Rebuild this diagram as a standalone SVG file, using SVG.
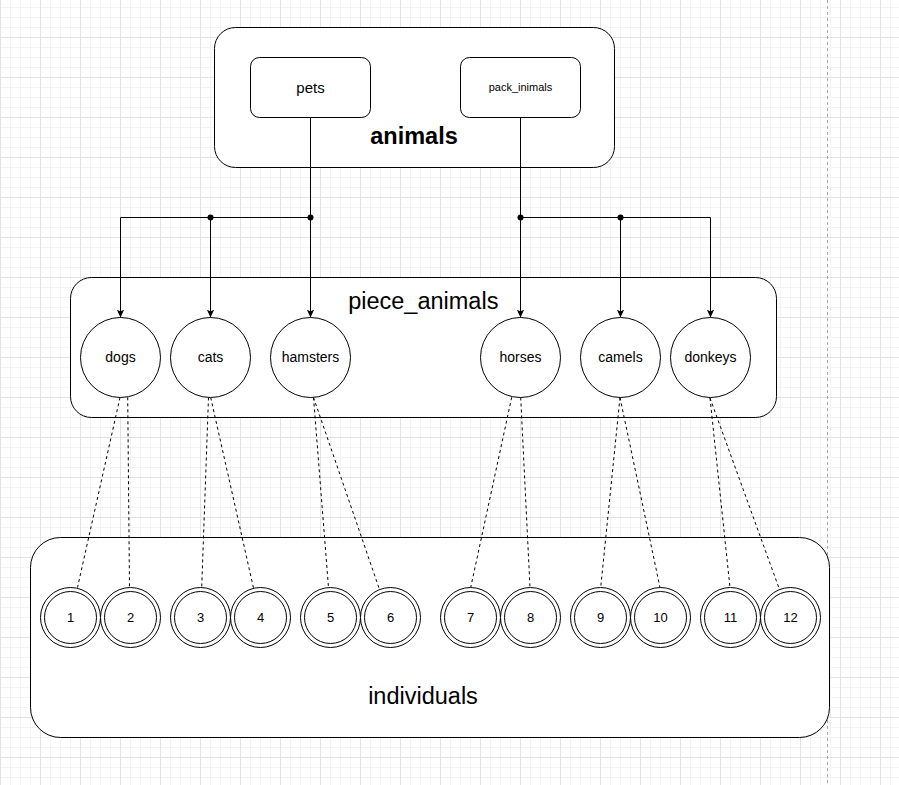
<svg xmlns="http://www.w3.org/2000/svg" width="899" height="785" viewBox="0 0 899 785">
<style>
.box{fill:#fff;stroke:#000;stroke-width:1}
.t{font-family:"Liberation Sans",Arial,Helvetica,sans-serif;fill:#000;text-anchor:middle}
.edge{fill:none;stroke:#000;stroke-width:1}
.dash{fill:none;stroke:#000;stroke-width:1;stroke-dasharray:3 3}
.dot{fill:#000}
</style>
<defs>
<pattern id="grid" width="40" height="40" x="0" y="-3" patternUnits="userSpaceOnUse">
<rect width="40" height="40" fill="#fff"/>
<path d="M10.5 0V40M20.5 0V40M30.5 0V40M0 10.5H40M0 20.5H40M0 30.5H40" stroke="#f3f3f3" stroke-width="1"/>
<path d="M0.5 0V40M0 0.5H40" stroke="#e2e2e2" stroke-width="1"/>
</pattern>
<marker id="arr" markerUnits="userSpaceOnUse" viewBox="0 0 8 8" refX="8" refY="4" markerWidth="8" markerHeight="8" orient="auto">
<path d="M0,0.3 L8,4 L0,7.7 L2,4 Z" fill="#000"/>
</marker>
</defs>
<rect width="899" height="785" fill="url(#grid)"/>
<path d="M827.5 0V785" stroke="#a8a8a8" stroke-width="1" stroke-dasharray="3 3"/>

<g id="animals">
<rect class="box" x="214.5" y="27.5" width="400" height="140" rx="21"/>
<text class="t" x="414" y="144" font-size="23.5" font-weight="bold">animals</text>
</g>
<g id="pets">
<rect class="box" x="250.5" y="57.5" width="120" height="60" rx="9"/>
<text class="t" x="310.5" y="92.8" font-size="15">pets</text>
</g>
<g id="pack_inimals">
<rect class="box" x="460.5" y="57.5" width="120" height="60" rx="9"/>
<text class="t" x="520.5" y="91.3" font-size="11">pack_inimals</text>
</g>

<g id="piece_animals">
<rect class="box" x="70.5" y="277.5" width="706" height="140" rx="21"/>
<text class="t" x="423.3" y="308.5" font-size="23.5">piece_animals</text>
</g>

<g id="individuals">
<rect class="box" x="30.5" y="537.5" width="799" height="200" rx="30"/>
<text class="t" x="423" y="703.5" font-size="23.5">individuals</text>
</g>

<g id="connectors">
<path class="edge" d="M310.5 117.5V217.5H120.5V317.5" marker-end="url(#arr)"/>
<path class="edge" d="M310.5 117.5V217.5H210.5V317.5" marker-end="url(#arr)"/>
<path class="edge" d="M310.5 117.5V317.5" marker-end="url(#arr)"/>
<path class="edge" d="M520.5 117.5V317.5" marker-end="url(#arr)"/>
<path class="edge" d="M520.5 117.5V217.5H620.5V317.5" marker-end="url(#arr)"/>
<path class="edge" d="M520.5 117.5V217.5H710.5V317.5" marker-end="url(#arr)"/>
<circle class="dot" cx="210.5" cy="217.5" r="3"/>
<circle class="dot" cx="310.5" cy="217.5" r="3"/>
<circle class="dot" cx="520.5" cy="217.5" r="3"/>
<circle class="dot" cx="620.5" cy="217.5" r="3"/>
<path class="dash" d="M120 397.5L77.5 587.5"/>
<path class="dash" d="M127.7 397.3L129.5 587.5"/>
<path class="dash" d="M208.5 397.5L201.7 587.5"/>
<path class="dash" d="M210.7 397.5L253.5 588"/>
<path class="dash" d="M313.5 397.5L328.5 587.5"/>
<path class="dash" d="M313.5 397.5L379.5 589.5"/>
<path class="dash" d="M511.7 397.3L470.7 587.5"/>
<path class="dash" d="M520.7 397.5L530 587.5"/>
<path class="dash" d="M620 397.5L600.7 587.5"/>
<path class="dash" d="M620 397.5L660 587.5"/>
<path class="dash" d="M710 398L730 587.5"/>
<path class="dash" d="M710 398L779.5 589.5"/>
</g>

<g id="dogs"><circle class="box" cx="120.5" cy="357.5" r="40"/><text class="t" x="120.5" y="362.4" font-size="14">dogs</text></g>
<g id="cats"><circle class="box" cx="210.5" cy="357.5" r="40"/><text class="t" x="210.5" y="362.4" font-size="14">cats</text></g>
<g id="hamsters"><circle class="box" cx="310.5" cy="357.5" r="40"/><text class="t" x="310.5" y="362.4" font-size="14">hamsters</text></g>
<g id="horses"><circle class="box" cx="520.5" cy="357.5" r="40"/><text class="t" x="520.5" y="362.4" font-size="14">horses</text></g>
<g id="camels"><circle class="box" cx="620.5" cy="357.5" r="40"/><text class="t" x="620.5" y="362.4" font-size="14">camels</text></g>
<g id="donkeys"><circle class="box" cx="710.5" cy="357.5" r="40"/><text class="t" x="710.5" y="362.4" font-size="14">donkeys</text></g>

<g id="i1"><circle class="box" cx="70.5" cy="617.5" r="30"/><circle class="box" cx="70.5" cy="617.5" r="26"/><text class="t" x="70.5" y="622" font-size="13">1</text></g>
<g id="i2"><circle class="box" cx="130.5" cy="617.5" r="30"/><circle class="box" cx="130.5" cy="617.5" r="26"/><text class="t" x="130.5" y="622" font-size="13">2</text></g>
<g id="i3"><circle class="box" cx="200.5" cy="617.5" r="30"/><circle class="box" cx="200.5" cy="617.5" r="26"/><text class="t" x="200.5" y="622" font-size="13">3</text></g>
<g id="i4"><circle class="box" cx="260.5" cy="617.5" r="30"/><circle class="box" cx="260.5" cy="617.5" r="26"/><text class="t" x="260.5" y="622" font-size="13">4</text></g>
<g id="i5"><circle class="box" cx="330.5" cy="617.5" r="30"/><circle class="box" cx="330.5" cy="617.5" r="26"/><text class="t" x="330.5" y="622" font-size="13">5</text></g>
<g id="i6"><circle class="box" cx="390.5" cy="617.5" r="30"/><circle class="box" cx="390.5" cy="617.5" r="26"/><text class="t" x="390.5" y="622" font-size="13">6</text></g>
<g id="i7"><circle class="box" cx="470.5" cy="617.5" r="30"/><circle class="box" cx="470.5" cy="617.5" r="26"/><text class="t" x="470.5" y="622" font-size="13">7</text></g>
<g id="i8"><circle class="box" cx="530.5" cy="617.5" r="30"/><circle class="box" cx="530.5" cy="617.5" r="26"/><text class="t" x="530.5" y="622" font-size="13">8</text></g>
<g id="i9"><circle class="box" cx="600.5" cy="617.5" r="30"/><circle class="box" cx="600.5" cy="617.5" r="26"/><text class="t" x="600.5" y="622" font-size="13">9</text></g>
<g id="i10"><circle class="box" cx="660.5" cy="617.5" r="30"/><circle class="box" cx="660.5" cy="617.5" r="26"/><text class="t" x="660.5" y="622" font-size="13">10</text></g>
<g id="i11"><circle class="box" cx="730.5" cy="617.5" r="30"/><circle class="box" cx="730.5" cy="617.5" r="26"/><text class="t" x="730.5" y="622" font-size="13">11</text></g>
<g id="i12"><circle class="box" cx="790.5" cy="617.5" r="30"/><circle class="box" cx="790.5" cy="617.5" r="26"/><text class="t" x="790.5" y="622" font-size="13">12</text></g>
</svg>
